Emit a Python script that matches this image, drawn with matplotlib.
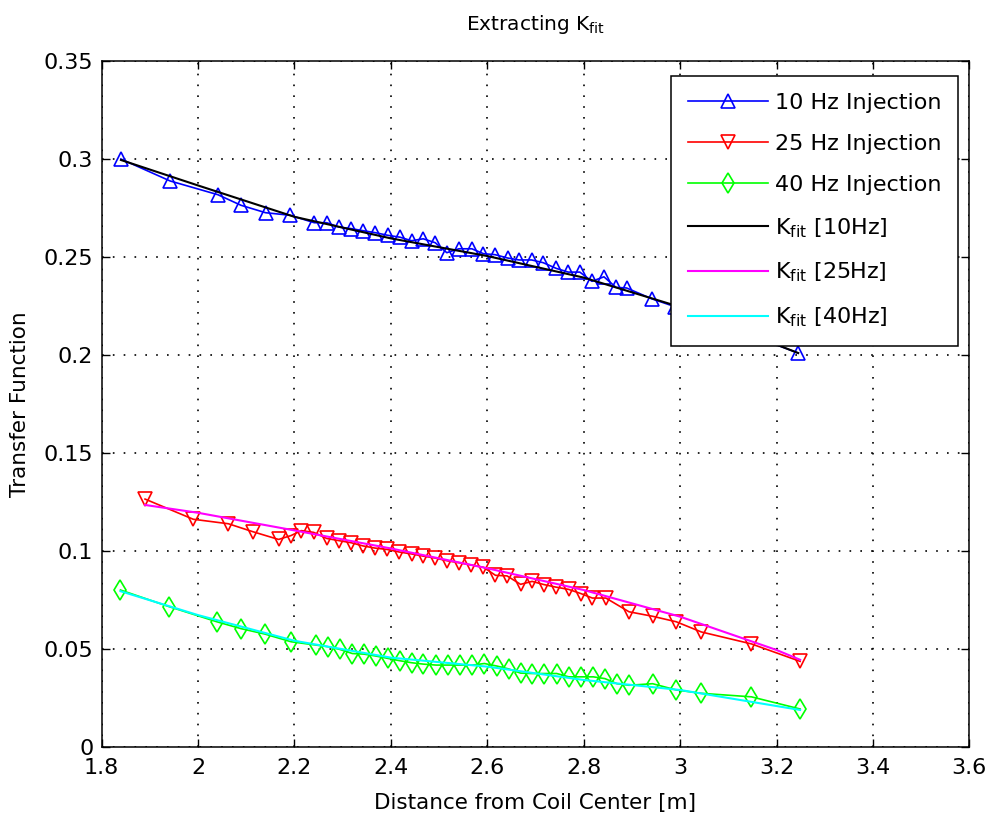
import numpy as np
import matplotlib
matplotlib.use('Agg')
import matplotlib.pyplot as plt
from matplotlib.ticker import FormatStrFormatter


# measured transfer function vs distance, one series per injection frequency
x_10hz = [1.840, 1.942, 2.041, 2.089, 2.140, 2.191, 2.241, 2.267, 2.292, 2.317,
          2.343, 2.368, 2.393, 2.419, 2.443, 2.467, 2.492, 2.516, 2.541, 2.568,
          2.592, 2.616, 2.642, 2.666, 2.692, 2.716, 2.743, 2.768, 2.792, 2.817,
          2.842, 2.867, 2.889, 2.941, 2.990, 3.044, 3.148, 3.245]
tf_10hz = [0.3000, 0.2888, 0.2818, 0.2764, 0.2726, 0.2713, 0.2675, 0.2675, 0.2653, 0.2645,
           0.2634, 0.2624, 0.2611, 0.2601, 0.2583, 0.2593, 0.2573, 0.2522, 0.2542, 0.2542,
           0.2517, 0.2512, 0.2495, 0.2485, 0.2485, 0.2471, 0.2442, 0.2423, 0.2423, 0.2376,
           0.2399, 0.2345, 0.2342, 0.2287, 0.2246, 0.2190, 0.2100, 0.2010]

x_25hz = [1.890, 1.990, 2.063, 2.113, 2.167, 2.193, 2.214, 2.240, 2.267, 2.292,
          2.318, 2.342, 2.367, 2.392, 2.417, 2.443, 2.467, 2.492, 2.517, 2.542,
          2.566, 2.592, 2.617, 2.641, 2.669, 2.693, 2.717, 2.742, 2.769, 2.794,
          2.818, 2.846, 2.894, 2.943, 2.992, 3.044, 3.148, 3.249]
tf_25hz = [0.1265, 0.1162, 0.1139, 0.1099, 0.1059, 0.1079, 0.1104, 0.1095, 0.1064, 0.1053,
           0.1042, 0.1026, 0.1015, 0.1008, 0.0995, 0.0985, 0.0974, 0.0964, 0.0950, 0.0940,
           0.0929, 0.0917, 0.0876, 0.0873, 0.0830, 0.0845, 0.0829, 0.0816, 0.0804, 0.0783,
           0.0760, 0.0760, 0.0690, 0.0667, 0.0639, 0.0587, 0.0526, 0.0437]

x_40hz = [1.839, 1.940, 2.039, 2.089, 2.139, 2.193, 2.245, 2.269, 2.294, 2.320,
          2.344, 2.369, 2.394, 2.419, 2.443, 2.467, 2.494, 2.519, 2.544, 2.569,
          2.594, 2.620, 2.645, 2.669, 2.693, 2.717, 2.744, 2.769, 2.794, 2.820,
          2.844, 2.869, 2.894, 2.943, 2.992, 3.044, 3.148, 3.249]
tf_40hz = [0.0801, 0.0716, 0.0639, 0.0604, 0.0576, 0.0537, 0.0520, 0.0512, 0.0498, 0.0477,
           0.0474, 0.0464, 0.0452, 0.0440, 0.0430, 0.0423, 0.0418, 0.0418, 0.0418, 0.0418,
           0.0426, 0.0413, 0.0398, 0.0377, 0.0375, 0.0375, 0.0375, 0.0358, 0.0358, 0.0358,
           0.0349, 0.0323, 0.0315, 0.0323, 0.0291, 0.0274, 0.0256, 0.0194]

# K_fit curves
fit_x_10 = [1.840, 2.0, 2.2, 2.4, 2.6, 2.8, 3.0, 3.245]
fit_10hz = [0.2995, 0.2865, 0.2705, 0.2595, 0.2505, 0.2395, 0.2245, 0.2010]
fit_x_25 = [1.890, 2.0, 2.2, 2.4, 2.6, 2.8, 3.0, 3.2, 3.249]
fit_25hz = [0.1235, 0.1195, 0.1105, 0.1013, 0.0912, 0.0801, 0.0665, 0.0495, 0.0445]
fit_x_40 = [1.839, 2.0, 2.2, 2.4, 2.6, 2.8, 3.0, 3.249]
fit_40hz = [0.0795, 0.0673, 0.0542, 0.0456, 0.0410, 0.0342, 0.0291, 0.0189]

x_ticks = np.arange(1.8, 3.61, 0.2)
y_ticks = np.arange(0, 0.351, 0.05)

fig = plt.figure(figsize=(9.89, 8.19), dpi=100)
ax = fig.add_axes([0.1028, 0.0879, 0.8773, 0.8376])

ax.plot(x_10hz, tf_10hz, '-^', color='#0000ff', mfc='none', ms=10, mew=1.2, lw=1.2,
        label='10 Hz Injection')
ax.plot(x_25hz, tf_25hz, '-v', color='#ff0000', mfc='none', ms=10, mew=1.2, lw=1.2,
        label='25 Hz Injection')
ax.plot(x_40hz, tf_40hz, '-d', color='#00ff00', mfc='none', ms=10, mew=1.2, lw=1.2,
        label='40 Hz Injection')
ax.plot(fit_x_10, fit_10hz, '-', color='k', lw=1.5, label=r'K$_{\mathrm{fit}}$ [10Hz]')
ax.plot(fit_x_25, fit_25hz, '-', color='#ff00ff', lw=1.5, label=r'K$_{\mathrm{fit}}$ [25Hz]')
ax.plot(fit_x_40, fit_40hz, '-', color='#00ffff', lw=1.5, label=r'K$_{\mathrm{fit}}$ [40Hz]')

ax.set_xlim(1.8, 3.6)
ax.set_ylim(0, 0.35)
ax.set_xticks(x_ticks)
ax.set_yticks(y_ticks)
ax.xaxis.set_major_formatter(FormatStrFormatter('%g'))
ax.yaxis.set_major_formatter(FormatStrFormatter('%g'))
ax.tick_params(direction='in', length=6, width=1, top=True, right=True,
               labelsize=16, colors='k')
ax.tick_params(axis='x', pad=8)
ax.tick_params(axis='y', pad=6)
for s in ax.spines.values():
    s.set_linewidth(1.1)

ax.grid(True, color='k', linestyle=(0, (1, 5.5)), linewidth=1.2)
ax.set_axisbelow(True)

ax.set_title(r'Extracting K$_{\mathrm{fit}}$', fontsize=14.5, pad=22)
ax.set_xlabel('Distance from Coil Center [m]', fontsize=15.5, labelpad=11)
ax.set_ylabel('Transfer Function', fontsize=15.5, labelpad=10)

leg = ax.legend(loc='upper right', bbox_to_anchor=(0.9866, 0.978), borderaxespad=0,
                fontsize=16, fancybox=False, framealpha=1, edgecolor='k',
                handlelength=3.6, handletextpad=0.3, borderpad=0.75, labelspacing=0.95)
leg.get_frame().set_linewidth(1.1)

fig.savefig('out.png', dpi=100)
